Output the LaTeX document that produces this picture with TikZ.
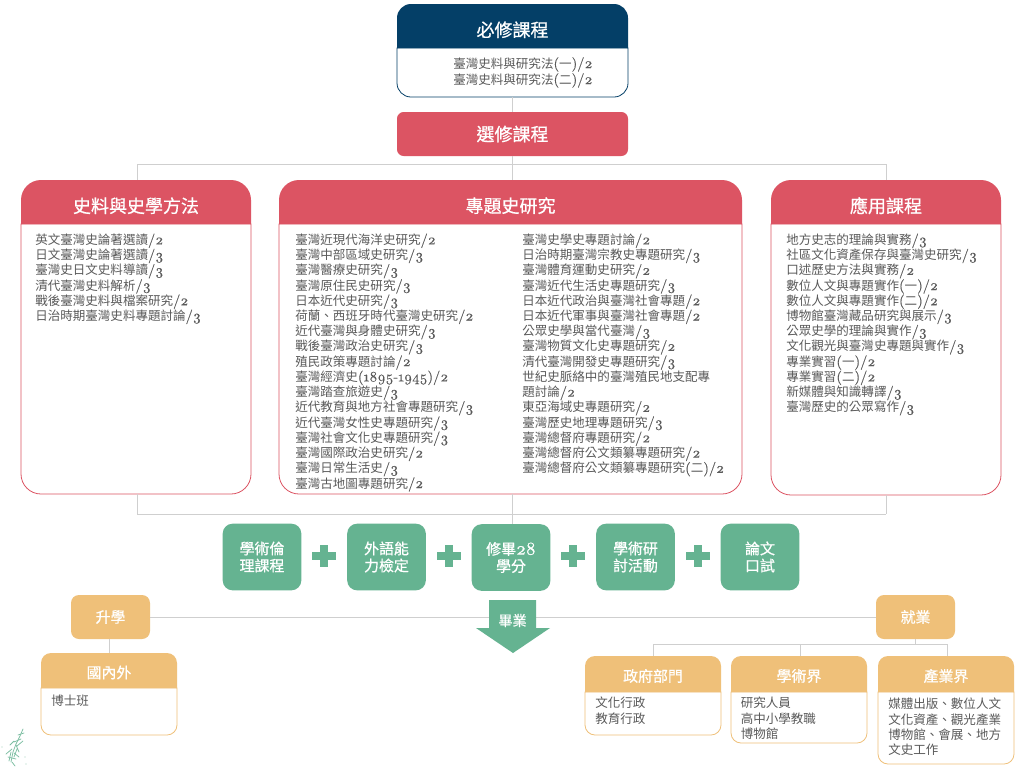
\documentclass[tikz,border=0pt]{standalone}
\usepackage{fontspec}
\setmainfont{Noto Sans CJK TC}
\newfontfamily\titlecjk[FakeBold=0.7]{Noto Sans CJK TC}
\newfontfamily\latinnum[Numbers=OldStyle,FakeBold=0.25]{Latin Modern Roman}
\newfontfamily\latinbold[Numbers=OldStyle,FakeBold=1.2]{Latin Modern Roman}
\newcommand{\la}[1]{{\latinnum\fontsize{10.8pt}{11.4pt}\selectfont #1}}
\definecolor{navy}{HTML}{043F67}
\definecolor{rosered}{HTML}{DC5463}
\definecolor{sage}{HTML}{65B391}
\definecolor{sand}{HTML}{EFC079}
\definecolor{wire}{HTML}{CFCFCF}
\definecolor{ink}{HTML}{5A5A5A}
\tikzset{
  wireline/.style={draw=wire,line width=0.75pt},
  listtext/.style={anchor=north west,inner sep=0pt,align=left,text=ink,font=\fontsize{9.4pt}{11.42pt}\selectfont},
  titletext/.style={text=white,inner sep=0pt,yshift=-2.8pt,font=\titlecjk\fontsize{13.5pt}{16pt}\selectfont},
  smalltitle/.style={text=white,inner sep=0pt,yshift=-1.5pt,align=center,font=\titlecjk\fontsize{11.2pt}{15pt}\selectfont},
  flatbox/.style={fill=#1,inner sep=0pt,text=white,align=center},
}
% name, x1, y1, x2, y2, ybar, radius, colour, title style; the title follows as node text
\newcommand{\card}[9]{%
  \draw[draw=#8,fill=white,line width=0.6pt]
    (#2,#6) -- (#2,#5-#7) arc[start angle=180,end angle=270,radius=#7*0.75pt] -- (#4-#7,#5)
    arc[start angle=270,end angle=360,radius=#7*0.75pt] -- (#4,#6) -- cycle;
  \fill[#8] (#2,#6) -- (#2,#3+#7) arc[start angle=180,end angle=90,radius=#7*0.75pt] -- (#4-#7,#3)
    arc[start angle=90,end angle=0,radius=#7*0.75pt] -- (#4,#6) -- cycle;
  \coordinate (#1) at ({(#2+#4)/2},{(#3+#5)/2});
  \coordinate (#1n) at ({(#2+#4)/2},#3);
  \coordinate (#1s) at ({(#2+#4)/2},#5);
  \node[#9] (#1t) at ({(#2+#4)/2},{(#3+#6)/2})}
\begin{document}
\begin{tikzpicture}[x=0.75pt,y=-0.75pt]
\useasboundingbox (0,0) rectangle (1024,768);
\fill[white] (0,0) rectangle (1024,768);

% junction coordinates
\coordinate (topl) at (137,164);
\coordinate (topm) at (512,164);
\coordinate (topr) at (886,164);
\coordinate (botl) at (137,514);
\coordinate (botm) at (512,514);
\coordinate (botr) at (886,514);
\coordinate (jobl) at (653,644);
\coordinate (jobm) at (800,644);
\coordinate (jobj) at (915,644);
\coordinate (jobr) at (947,644);

% flat boxes for connectors
\node[flatbox=rosered,rounded corners=5pt,minimum width=173.25pt,minimum height=33pt,font=\titlecjk\fontsize{13.5pt}{16pt}\selectfont] (elect) at (512.5,134) {\raisebox{-1pt}{選修課程}};
\node[flatbox=sand,rounded corners=6pt,minimum width=59.25pt,minimum height=33pt,font=\titlecjk\fontsize{11.2pt}{15pt}\selectfont] (further) at (110.5,617) {\raisebox{-0.7pt}{升學}};
\node[flatbox=sand,rounded corners=6pt,minimum width=59.25pt,minimum height=33pt,font=\titlecjk\fontsize{11.2pt}{15pt}\selectfont] (work) at (915.5,617) {\raisebox{-0.7pt}{就業}};

\foreach \n/\x/\y/\t in {g1/262/557/{學術倫\\理課程},g2/386.5/557/{外語能\\力檢定},g3/511/557.5/{修畢{\latinbold\fontsize{13.5pt}{13pt}\selectfont 28}\\學分},g4/635.5/557/{學術研\\討活動},g5/760/557/{論文\\口試}}{
  \node[flatbox=sage,rounded corners=7.5pt,minimum width=59pt,minimum height=50pt,font=\titlecjk\fontsize{11.2pt}{12.8pt}\selectfont] (\n) at (\x,\y) {\t};
}

% cards
\card{req}{397}{4}{628}{97}{48}{14}{navy}{titletext}{必修課程};
\card{src}{21}{180}{251}{494}{224}{20}{rosered}{titletext}{史料與史學方法};
\card{top}{279}{180}{742}{494}{224}{20}{rosered}{titletext}{專題史研究};
\card{app}{771}{180}{1001}{495}{224}{20}{rosered}{titletext}{應用課程};
\card{dom}{41}{653}{177}{735}{688}{10}{sand}{smalltitle}{國內外};
\card{gov}{585}{656}{721}{735}{692}{10}{sand}{smalltitle}{政府部門};
\card{aca}{731}{656}{867}{743}{692}{10}{sand}{smalltitle}{學術界};
\card{ind}{878}{656}{1014}{764}{692}{10}{sand}{smalltitle}{產業界};

% connectors
\draw[wireline] (reqs) -- (elect.north);
\draw[wireline] (elect.south) -- (elect.south |- topm);
\draw[wireline] (topl) -- (topr);
\draw[wireline] (topl) -- (topl |- srcn);
\draw[wireline] (topm) -- (topm |- topn);
\draw[wireline] (topr) -- (topr |- appn);
\draw[wireline] (botl |- srcs) -- (botl);
\draw[wireline] (botm |- tops) -- (botm);
\draw[wireline] (botr |- apps) -- (botr);
\draw[wireline] (botl) -- (botr);
\draw[wireline] (botm) -- (botm |- g3.north);
\draw[wireline] (further.east) -- (work.west);
\draw[wireline] (further.south -| domn) -- (domn);
\draw[wireline] (work.south -| jobj) -- (jobj);
\draw[wireline] (jobl) -- (jobr);
\draw[wireline] (jobl) -- (jobl |- govn);
\draw[wireline] (jobm) -- (jobm |- acan);
\draw[wireline] (jobr) -- (jobr |- indn);

% plus signs
\foreach \x in {324,448.5,573,698}{
  \fill[sage] (\x-12,552) rectangle (\x+12,560);
  \fill[sage] (\x-4,545) rectangle (\x+4,567);
}

% graduation arrow
\fill[sage] (489,600) -- (536,600) -- (536,628) -- (550,628) -- (513,653) -- (476,628) -- (489,628) -- cycle;
\node[text=white,inner sep=0pt,font=\titlecjk\fontsize{10.6pt}{14pt}\selectfont] (grad) at (512.5,620.5) {畢業};

% lists
\node[listtext,font=\fontsize{9.4pt}{12pt}\selectfont] (reqlist) at (453,57) {臺灣史料與研究法\la{(}一\la{)/2}\\臺灣史料與研究法\la{(}二\la{)/2}};
\node[listtext] (srclist) at (35,233.3) {英文臺灣史論著選讀\la{/2}\\日文臺灣史論著選讀\la{/3}\\臺灣史日文史料導讀\la{/3}\\清代臺灣史料解析\la{/3}\\戰後臺灣史料與檔案研究\la{/2}\\日治時期臺灣史料專題討論\la{/3}};
\node[listtext] (toplist1) at (295,233.3) {臺灣近現代海洋史研究\la{/2}\\臺灣中部區域史研究\la{/3}\\臺灣醫療史研究\la{/3}\\臺灣原住民史研究\la{/3}\\日本近代史研究\la{/3}\\荷蘭、西班牙時代臺灣史研究\la{/2}\\近代臺灣與身體史研究\la{/3}\\戰後臺灣政治史研究\la{/3}\\殖民政策專題討論\la{/2}\\臺灣經濟史\la{(1895-1945)/2}\\臺灣踏查旅遊史\la{/3}\\近代教育與地方社會專題研究\la{/3}\\近代臺灣女性史專題研究\la{/3}\\臺灣社會文化史專題研究\la{/3}\\臺灣國際政治史研究\la{/2}\\臺灣日常生活史\la{/3}\\臺灣古地圖專題研究\la{/2}};
\node[listtext] (toplist2) at (522,233.3) {臺灣史學史專題討論\la{/2}\\日治時期臺灣宗教史專題研究\la{/3}\\臺灣體育運動史研究\la{/2}\\臺灣近代生活史專題研究\la{/3}\\日本近代政治與臺灣社會專題\la{/2}\\日本近代軍事與臺灣社會專題\la{/2}\\公眾史學與當代臺灣\la{/3}\\臺灣物質文化史專題研究\la{/2}\\清代臺灣開發史專題研究\la{/3}\\世紀史脈絡中的臺灣殖民地支配專\\題討論\la{/2}\\東亞海域史專題研究\la{/2}\\臺灣歷史地理專題研究\la{/3}\\臺灣總督府專題研究\la{/2}\\臺灣總督府公文類纂專題研究\la{/2}\\臺灣總督府公文類纂專題研究\la{(}二\la{)/2}};
\node[listtext] (applist) at (786,233.3) {地方史志的理論與實務\la{/3}\\社區文化資產保存與臺灣史研究\la{/3}\\口述歷史方法與實務\la{/2}\\數位人文與專題實作\la{(}一\la{)/2}\\數位人文與專題實作\la{(}二\la{)/2}\\博物館臺灣藏品研究與展示\la{/3}\\公眾史學的理論與實作\la{/3}\\文化觀光與臺灣史專題與實作\la{/3}\\專業實習\la{(}一\la{)/2}\\專業實習\la{(}二\la{)/2}\\新媒體與知識轉譯\la{/3}\\臺灣歷史的公眾寫作\la{/3}};
\node[listtext] (domlist) at (51,695) {博士班};
\node[listtext] (govlist) at (595,697) {文化行政\\教育行政};
\node[listtext] (acalist) at (740.5,697) {研究人員\\高中小學教職\\博物館};
\node[listtext] (indlist) at (888,698) {媒體出版、數位人文\\文化資產、觀光產業\\博物館、會展、地方\\文史工作};

% small island mark
\begin{scope}[draw=sage!85,line width=0.55pt,line cap=round]
\draw (23,729) -- (20,736) -- (16,744) -- (13,752) -- (11,762);
\draw (24,733) -- (18,735) (21,739) -- (14,742) (23,741) -- (17,746) (14,741) -- (10,745) (16,745) -- (19,752) (12,749) -- (6,754) (14,753) -- (19,757) (8,757) -- (16,759) (11,752) -- (9,761) (17,749) -- (14,757) (12,762) -- (15,766);
\fill[sage!60] (2,747) circle (0.5pt) (26,764) circle (0.5pt) (25,757) circle (0.4pt);
\end{scope}
\end{tikzpicture}
\end{document}
